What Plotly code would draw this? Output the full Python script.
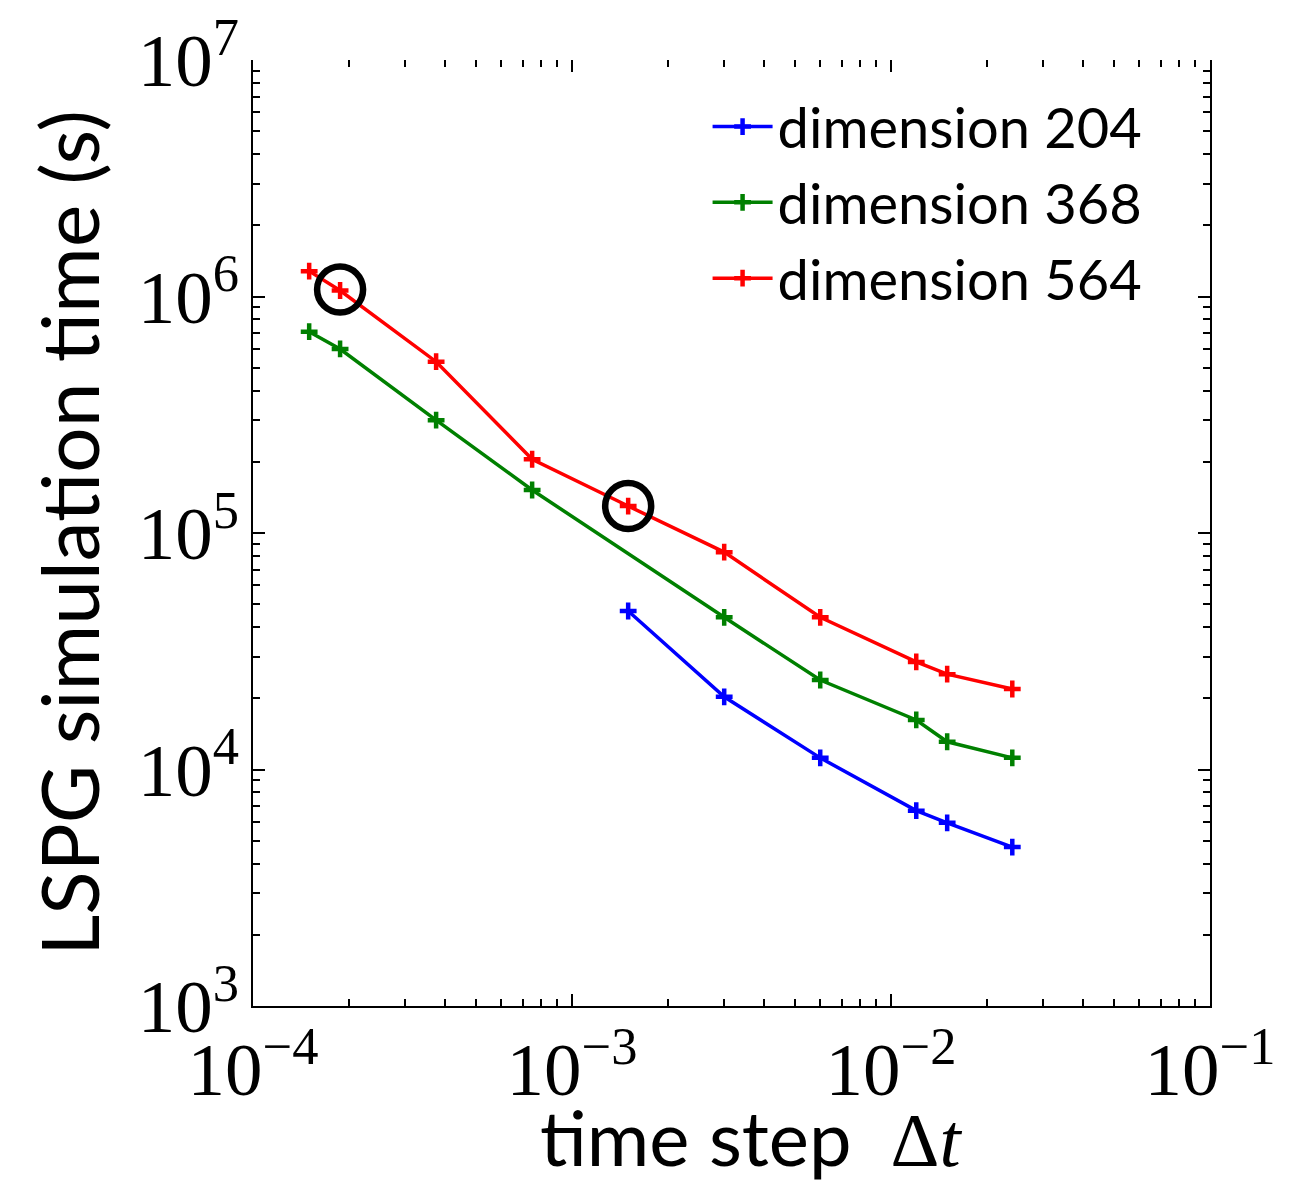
import plotly.graph_objects as go

# data
dt_all = [1.5e-4, 1.875e-4, 3.75e-4, 7.5e-4, 1.5e-3, 3e-3, 6e-3, 1.2e-2, 1.5e-2, 2.4e-2]
dt_368 = [1.5e-4, 1.875e-4, 3.75e-4, 7.5e-4, 3e-3, 6e-3, 1.2e-2, 1.5e-2, 2.4e-2]
dt_204 = [1.5e-3, 3e-3, 6e-3, 1.2e-2, 1.5e-2, 2.4e-2]
time_564 = [1.28e6, 1.06e6, 5.3e5, 2.05e5, 1.30e5, 8.3e4, 4.4e4, 2.85e4, 2.53e4, 2.19e4]
time_368 = [7.1e5, 6.0e5, 3.0e5, 1.52e5, 4.4e4, 2.39e4, 1.62e4, 1.31e4, 1.12e4]
time_204 = [4.68e4, 2.03e4, 1.12e4, 6.7e3, 5.95e3, 4.7e3]
circle_dt = [1.875e-4, 1.5e-3]
circle_time = [1.07e6, 1.30e5]
series_names = ["dimension 204", "dimension 368", "dimension 564"]
series_colors = ["#0000ff", "#008000", "#ff0000"]
x_title = 'time step  <span style="font-family:Liberation Serif">Δ<i>t</i></span>'
y_title = "LSPG simulation time (s)"

fig = go.Figure()
for name, xs, ys, col in zip(series_names, [dt_204, dt_368, dt_all],
                             [time_204, time_368, time_564], series_colors):
    fig.add_trace(go.Scatter(
        x=xs, y=ys, name=name, mode="lines+markers",
        line=dict(color=col, width=3.5),
        marker=dict(symbol="cross-thin", size=12, color=col,
                    line=dict(color=col, width=4.5)),
    ))

fig.add_trace(go.Scatter(
    x=circle_dt, y=circle_time, mode="markers", showlegend=False,
    marker=dict(symbol="circle-open", size=46, color="black",
                line=dict(color="black", width=6.5)),
))

# invisible trace for top axis ticks
fig.add_trace(go.Scatter(x=[1e-4, 1e-1], y=[1e3, 1e3], xaxis="x2",
                         mode="markers", marker=dict(opacity=0),
                         showlegend=False, hoverinfo="skip"))

fig.add_annotation(text=x_title, xref="paper", yref="paper", x=0.52, y=-0.138,
                   xanchor="center", yanchor="middle", showarrow=False,
                   font=dict(family="Lato", size=76, color="black"))

tickfont = dict(family="Liberation Serif", size=60, color="black")
fig.update_layout(
    width=1312, height=1187,
    margin=dict(l=245, r=110, t=52, b=189),
    paper_bgcolor="white", plot_bgcolor="white",
    showlegend=True,
    legend=dict(x=0.475, y=0.975, xanchor="left", yanchor="top",
                font=dict(family="Lato", size=56, color="black"),
                bgcolor="rgba(0,0,0,0)", tracegroupgap=0,
                itemwidth=60),
    xaxis=dict(type="log", range=[-4, -1], dtick=1, exponentformat="power",
               automargin=False, ticklabeloverflow="allow",
               showline=True, linecolor="black", linewidth=2,
               ticks="inside", ticklen=12, tickwidth=1.5, tickcolor="black",
               minor=dict(ticks="inside", ticklen=7, tickcolor="black", dtick="D1"),
               showgrid=False, zeroline=False, tickfont=tickfont),
    xaxis2=dict(type="log", range=[-4, -1], overlaying="x", side="top",
                automargin=False,
                showline=False, showticklabels=False, showgrid=False,
                ticks="inside", ticklen=12, tickwidth=1.5, tickcolor="black", dtick=1,
                minor=dict(ticks="inside", ticklen=7, tickcolor="black", dtick="D1")),
    yaxis=dict(type="log", range=[3, 7], dtick=1, exponentformat="power",
               automargin=False, ticklabeloverflow="allow",
               showline=True, linecolor="black", linewidth=2, mirror="ticks",
               ticks="inside", ticklen=12, tickwidth=1.5, tickcolor="black",
               minor=dict(ticks="inside", ticklen=7, tickcolor="black", dtick="D1"),
               showgrid=False, zeroline=False, tickfont=tickfont,
               title=dict(text=y_title,
                          font=dict(family="Lato", size=80, color="black"), standoff=12)),
)

fig.write_html("out.html")
